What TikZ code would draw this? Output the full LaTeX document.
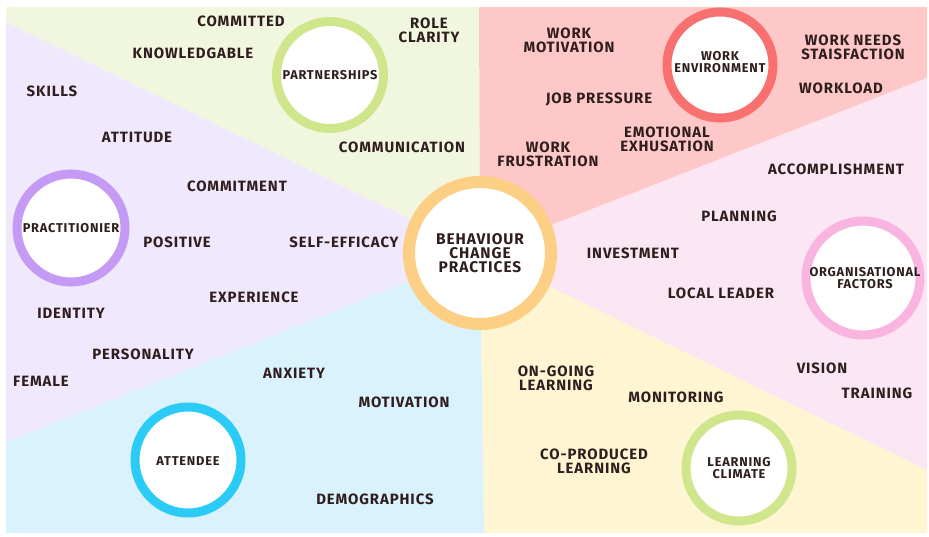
\documentclass[tikz,border=0pt]{standalone}
\usepackage{fontspec}
\setmainfont{Fira Sans}[LetterSpace=6]
\usetikzlibrary{calc}
\definecolor{partgreen}{RGB}{240,247,222}
\definecolor{workred}{RGB}{253,200,199}
\definecolor{orgpink}{RGB}{253,230,244}
\definecolor{learnyellow}{RGB}{254,245,210}
\definecolor{attblue}{RGB}{218,242,253}
\definecolor{pracpurple}{RGB}{240,232,252}
\definecolor{ringgreen}{RGB}{208,230,140}
\definecolor{ringred}{RGB}{248,112,112}
\definecolor{ringpink}{RGB}{249,180,224}
\definecolor{ringblue}{RGB}{42,204,245}
\definecolor{ringpurple}{RGB}{196,154,245}
\definecolor{ringorange}{RGB}{252,207,133}
\definecolor{txtdark}{RGB}{48,30,30}
\tikzset{every picture/.style={line width=0.75pt}}

\begin{document}
\begin{tikzpicture}[x=0.75pt,y=0.75pt,yscale=-1,xscale=1,
  lbl/.style={inner sep=0pt, align=center, text=txtdark, font=\bfseries\fontsize{11.2}{10.6}\selectfont},
  hub/.style={inner sep=0pt, align=center, text=txtdark, font=\bfseries\fontsize{9.6}{9.2}\selectfont},
  ring/.style={draw=#1, fill=white, line width=6.75pt}]
\useasboundingbox (0,0) rectangle (929,536);
\fill[white] (0,0) rectangle (929,536);
\coordinate (c) at (480,253);

%Shape: sectors
\fill[partgreen] (c) -- (6,22) -- (6,7) -- (479,7) -- cycle;
\fill[workred] (c) -- (479,7) -- (927,7) -- (927,78) -- cycle;
\fill[orgpink] (c) -- (927,78) -- (927,470) -- cycle;
\fill[learnyellow] (c) -- (927,470) -- (927,533) -- (484,533) -- cycle;
\fill[attblue] (c) -- (484,533) -- (6,533) -- (6,442) -- cycle;
\fill[pracpurple] (c) -- (6,442) -- (6,22) -- cycle;

%Shape: rings
\draw[ring=ringgreen] (330,75) circle [radius=53.5];
\draw[ring=ringred] (720,65) circle [radius=53];
\draw[ring=ringpurple] (71,228) circle [radius=54];
\draw[ring=ringpink] (863,278) circle [radius=57];
\draw[ring=ringgreen] (739,468) circle [radius=53];
\draw[ring=ringblue] (188,460) circle [radius=53];
\draw[ring=ringorange, line width=9pt] (c) circle [radius=71];

% Text Node
\node[lbl, font=\bfseries\fontsize{11.6}{10.6}\selectfont] (bcp) at (480,253) {BEHAVIOUR\\CHANGE\\PRACTICES};
\node[hub] (partnerships) at (330,75) {PARTNERSHIPS};
\node[hub] (workenv) at (720,62) {WORK\\ENVIRONMENT};
\node[hub] (practitioner) at (71,228) {PRACTITIONIER};
\node[hub] (orgfactors) at (865,278) {ORGANISATIONAL\\FACTORS};
\node[hub] (learnclimate) at (739,468) {LEARNING\\CLIMATE};
\node[hub] (attendee) at (188,461) {ATTENDEE};

% Text Node
\node[lbl] (committed) at (241,21) {COMMITTED};
\node[lbl] (knowledgable) at (193,53) {KNOWLEDGABLE};
\node[lbl] (roleclarity) at (429,30) {ROLE\\CLARITY};
\node[lbl] (communication) at (402,147) {COMMUNICATION};

% Text Node
\node[lbl] (skills) at (52,91) {SKILLS};
\node[lbl] (attitude) at (137,137) {ATTITUDE};
\node[lbl] (commitment) at (237,186) {COMMITMENT};
\node[lbl] (positive) at (177,242) {POSITIVE};
\node[lbl] (selfefficacy) at (344,242) {SELF-EFFICACY};
\node[lbl] (experience) at (254,297) {EXPERIENCE};
\node[lbl] (identity) at (71,313) {IDENTITY};
\node[lbl] (personality) at (143,354) {PERSONALITY};
\node[lbl] (female) at (41,381) {FEMALE};

% Text Node
\node[lbl] (anxiety) at (294,373) {ANXIETY};
\node[lbl] (motivation) at (404,402) {MOTIVATION};
\node[lbl] (demographics) at (375,499) {DEMOGRAPHICS};

% Text Node
\node[lbl] (workmotivation) at (569,40) {WORK\\MOTIVATION};
\node[lbl] (jobpressure) at (599,99) {JOB PRESSURE};
\node[lbl] (workfrustration) at (548,154) {WORK\\FRUSTRATION};
\node[lbl] (emotional) at (667,139) {EMOTIONAL\\EXHUSATION};
\node[lbl] (workneeds) at (853,47) {WORK NEEDS\\STAISFACTION};
\node[lbl] (workload) at (841,88) {WORKLOAD};

% Text Node
\node[lbl] (accomplishment) at (836,169) {ACCOMPLISHMENT};
\node[lbl] (planning) at (739,216) {PLANNING};
\node[lbl] (investment) at (633,253) {INVESTMENT};
\node[lbl] (localleader) at (721,293) {LOCAL LEADER};
\node[lbl] (vision) at (822,368) {VISION};
\node[lbl] (training) at (877,393) {TRAINING};

% Text Node
\node[lbl] (ongoing) at (556,378) {ON-GOING\\LEARNING};
\node[lbl] (monitoring) at (676,397) {MONITORING};
\node[lbl] (coproduced) at (594,461) {CO-PRODUCED\\LEARNING};
\end{tikzpicture}
\end{document}
